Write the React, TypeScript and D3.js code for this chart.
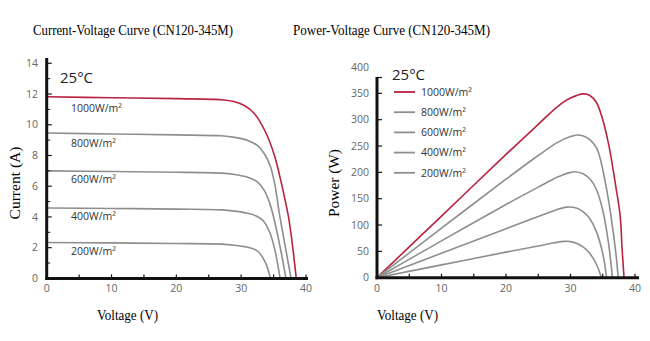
import React from "react";
import * as d3 from "d3";

type Pt = [number, number];

const irradiances = ["1000W/m²", "800W/m²", "600W/m²", "400W/m²", "200W/m²"];

const iv1000: Pt[] = [[0, 11.82], [10, 11.76], [20, 11.7], [27, 11.63], [29, 11.5], [30.5, 11.25], [32, 10.75], [33.9, 9.4], [35.2, 7.9], [36.2, 6.2], [37.3, 4.0], [38, 1.85], [38.5, 0]];
const iv800: Pt[] = [[0, 9.46], [10, 9.4], [20, 9.34], [27, 9.28], [29, 9.18], [31, 8.98], [32.5, 8.65], [33.6, 8.1], [34.5, 7.3], [35.2, 6.1], [35.9, 4.2], [36.9, 1.85], [37.7, 0]];
const iv600: Pt[] = [[0, 7.0], [10, 6.96], [20, 6.91], [27, 6.85], [29, 6.76], [31, 6.58], [32.5, 6.28], [33.6, 5.7], [34.4, 4.9], [35, 4.0], [36.1, 1.85], [36.9, 0]];
const iv400: Pt[] = [[0, 4.58], [10, 4.55], [20, 4.51], [27, 4.46], [29, 4.38], [31, 4.24], [32.4, 4.05], [33.4, 3.75], [34.4, 3.0], [35.2, 1.85], [36, 0]];
const iv200: Pt[] = [[0, 2.34], [10, 2.31], [20, 2.27], [27, 2.23], [29, 2.16], [30.5, 2.07], [31.6, 1.96], [32.6, 1.75], [33.8, 0.98], [34.5, 0]];

const pv1000: Pt[] = [[0, 0], [10, 117], [20, 234], [25, 291], [28, 325], [30, 341], [32, 349], [33, 346], [34, 333], [35, 300], [36, 248], [37, 175], [37.7, 117], [38, 55], [38.3, 0]];
const pv800: Pt[] = [[0, 0], [10, 94], [20, 187], [25, 232], [28, 257], [30, 268], [31, 271], [32, 269], [33, 262], [34.1, 245], [35.4, 181], [36.3, 115], [37, 50], [37.4, 0]];
const pv600: Pt[] = [[0, 0], [10, 70], [20, 139], [25, 172], [28, 191], [30, 200], [30.6, 201], [32, 197], [33, 188], [34, 168], [35, 128], [35.9, 65], [36.5, 0]];
const pv400: Pt[] = [[0, 0], [10, 46.5], [20, 93], [25, 116], [27.5, 127.5], [29.4, 134], [31, 132], [32, 125], [33, 112], [34, 88], [35, 46], [35.6, 0]];
const pv200: Pt[] = [[0, 0], [10, 24.3], [20, 48.5], [25, 60.3], [27.5, 66.2], [29, 69], [30, 68.5], [31, 65], [32, 58], [33, 46], [34, 26], [34.8, 0]];

const ivSeries = [iv1000, iv800, iv600, iv400, iv200];
const pvSeries = [pv1000, pv800, pv600, pv400, pv200];

const xTicks = [0, 10, 20, 30, 40];
const xMinor = [5, 15, 25, 35];
const ivTicks = [0, 2, 4, 6, 8, 10, 12, 14];
const ivMinor = [1, 3, 5, 7, 9, 11, 13];
const pvTicks = [0, 50, 100, 150, 200, 250, 300, 350, 400];

const RED = "#b8233f";
const GRAY = "#8e8e8e";
const SANS = "'Open Sans', 'DejaVu Sans', sans-serif";
const SERIF = "'Liberation Serif', 'Times New Roman', serif";

export default function App() {
  const xL = d3.scaleLinear().domain([0, 40]).range([46.7, 306]);
  const yL = d3.scaleLinear().domain([0, 14]).range([278.4, 63.3]);
  const xR = d3.scaleLinear().domain([0, 40]).range([377, 635]);
  const yR = d3.scaleLinear().domain([0, 400]).range([277.7, 67]);

  const curve = d3.curveCatmullRom.alpha(0.5);
  const lineL = d3.line<Pt>().x((d) => xL(d[0])).y((d) => yL(d[1])).curve(curve);
  const lineR = d3.line<Pt>().x((d) => xR(d[0])).y((d) => yR(d[1])).curve(curve);

  const axisColor = "#111";
  const tickColor = "#666";
  const titleSize = 14.5;

  return (
    <svg width={650} height={341} style={{ position: "absolute", left: 0, top: 0, background: "#fff" }}>
      <text x={133} y={35} textAnchor="middle" fontFamily={SERIF} fontSize={titleSize} textLength={200} lengthAdjust="spacingAndGlyphs" fill="#000">
        Current-Voltage Curve (CN120-345M)
      </text>
      <text x={391.5} y={35} textAnchor="middle" fontFamily={SERIF} fontSize={titleSize} textLength={197} lengthAdjust="spacingAndGlyphs" fill="#000">
        Power-Voltage Curve (CN120-345M)
      </text>

      {/* ===== Left chart ===== */}
      <g>
        {ivSeries.map((s, i) => (
          <path key={i} d={lineL(s) || ""} fill="none" stroke={i === 0 ? RED : GRAY} strokeWidth={1.6} />
        ))}
        <line x1={xL(0)} x2={xL(0)} y1={58} y2={yL(0) + 1.5} stroke={axisColor} strokeWidth={3} />
        <line x1={xL(0) - 1.5} x2={308} y1={yL(0)} y2={yL(0)} stroke={axisColor} strokeWidth={3} />
        {ivTicks.filter((t) => t > 0).map((t) => (
          <line key={"yt" + t} x1={xL(0)} x2={xL(0) + 5} y1={yL(t)} y2={yL(t)} stroke={axisColor} strokeWidth={1.2} />
        ))}
        {ivMinor.map((t) => (
          <line key={"ym" + t} x1={xL(0)} x2={xL(0) + 3.5} y1={yL(t)} y2={yL(t)} stroke={axisColor} strokeWidth={1} />
        ))}
        {[...xTicks.filter((t) => t > 0), ...xMinor].map((t) => (
          <line key={"xt" + t} x1={xL(t)} x2={xL(t)} y1={yL(0)} y2={yL(0) - 4} stroke={axisColor} strokeWidth={1.2} />
        ))}
        {ivTicks.map((t) => (
          <text key={"yl" + t} x={38} y={yL(t)} dy="0.35em" textAnchor="end" fontFamily={SANS} fontSize={10.5} fill={tickColor}>
            {t}
          </text>
        ))}
        {xTicks.map((t) => (
          <text key={"xl" + t} x={xL(t)} y={292} textAnchor="middle" fontFamily={SANS} fontSize={10.5} fill={tickColor}>
            {t}
          </text>
        ))}
        <text x={60} y={83} fontFamily={SANS} fontSize={15} fill="#222">25°C</text>
        {irradiances.map((lab, i) => (
          <text key={"il" + i} x={71} y={[112, 147, 183, 220, 255][i]} fontFamily={SANS} fontSize={10.5} fill="#333">
            {lab}
          </text>
        ))}
        <text x={127.5} y={320} textAnchor="middle" fontFamily={SERIF} fontSize={titleSize} textLength={61} lengthAdjust="spacingAndGlyphs" fill="#000">Voltage (V)</text>
        <text transform="translate(20,183) rotate(-90)" textAnchor="middle" fontFamily={SERIF} fontSize={titleSize} textLength={73} lengthAdjust="spacingAndGlyphs" fill="#000">
          Current (A)
        </text>
      </g>

      {/* ===== Right chart ===== */}
      <g>
        {pvSeries.map((s, i) => (
          <path key={i} d={lineR(s) || ""} fill="none" stroke={i === 0 ? RED : GRAY} strokeWidth={1.6} />
        ))}
        <line x1={xR(0)} x2={xR(0)} y1={77} y2={yR(0) + 1.5} stroke={axisColor} strokeWidth={3} />
        <line x1={xR(0)} x2={xR(0) + 5} y1={77.5} y2={77.5} stroke={axisColor} strokeWidth={1.2} />
        <line x1={xR(0) - 1.5} x2={639} y1={yR(0)} y2={yR(0)} stroke={axisColor} strokeWidth={3} />
        {pvTicks.filter((t) => t > 0 && t < 400).map((t) => (
          <line key={"yt" + t} x1={xR(0)} x2={xR(0) + 5} y1={yR(t)} y2={yR(t)} stroke={axisColor} strokeWidth={1.2} />
        ))}
        {[...xTicks.filter((t) => t > 0), ...xMinor].map((t) => (
          <line key={"xt" + t} x1={xR(t)} x2={xR(t)} y1={yR(0)} y2={yR(0) - 4} stroke={axisColor} strokeWidth={1.2} />
        ))}
        {pvTicks.map((t) => (
          <text key={"yl" + t} x={369} y={yR(t)} dy="0.35em" textAnchor="end" fontFamily={SANS} fontSize={10.5} fill={tickColor}>
            {t}
          </text>
        ))}
        {xTicks.map((t) => (
          <text key={"xl" + t} x={xR(t)} y={292} textAnchor="middle" fontFamily={SANS} fontSize={10.5} fill={tickColor}>
            {t}
          </text>
        ))}
        <text x={392} y={80} fontFamily={SANS} fontSize={15} fill="#222">25°C</text>
        {irradiances.map((lab, i) => {
          const ly = 92 + i * 20.2;
          return (
            <g key={"lg" + i}>
              <line x1={394} x2={415} y1={ly} y2={ly} stroke={i === 0 ? RED : GRAY} strokeWidth={1.8} />
              <text x={421} y={ly + 3.8} fontFamily={SANS} fontSize={10.5} fill="#333">{lab}</text>
            </g>
          );
        })}
        <text x={407.5} y={320} textAnchor="middle" fontFamily={SERIF} fontSize={titleSize} textLength={61} lengthAdjust="spacingAndGlyphs" fill="#000">Voltage (V)</text>
        <text transform="translate(339,183) rotate(-90)" textAnchor="middle" fontFamily={SERIF} fontSize={titleSize} textLength={68} lengthAdjust="spacingAndGlyphs" fill="#000">
          Power (W)
        </text>
      </g>
    </svg>
  );
}
